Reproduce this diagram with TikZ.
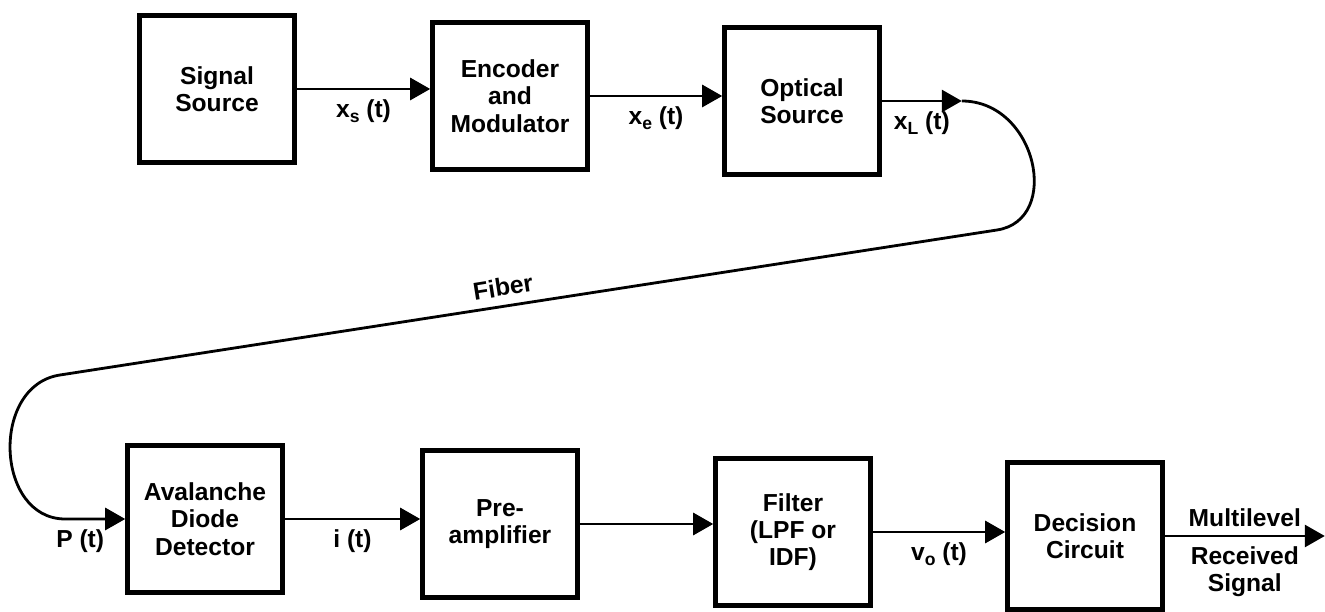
\documentclass[tikz,border=0pt]{standalone}
\usepackage{fontspec}
\setmainfont{Liberation Sans}
\usetikzlibrary{
  arrows.meta,
  positioning
}

%% subscript hanging low, as on the scanned labels
\newcommand{\lowsub}[1]{\raisebox{-0.45ex}{\fontsize{10}{10}\selectfont #1}}

\begin{document}
\begin{tikzpicture}[
  font=\fontsize{14}{15.5}\selectfont\bfseries,
  %% ── node styles ────────────────────────────────────────────────────
  %% Square blocks of the link
  B/.style  ={rectangle, draw, line width=2.6pt,
               minimum width=3.1cm, minimum height=2.95cm,
               align=center, inner sep=2pt},
  %% Signal names under the arrows
  lbl/.style={below=4pt, inner sep=1pt, align=center},
  %% Arrows
  arr/.style={-{Triangle[length=0.40cm,width=0.44cm]}, line width=1.6pt},
]

\useasboundingbox (0,0) rectangle (26.5,12.24);

%% ════════════════════════════════════════════════════════════════════
%% TRANSMITTER  (top row)
%% ════════════════════════════════════════════════════════════════════

\node[B] (sig) at ( 4.34,10.46) {Signal\\Source};
\node[B] (enc) at (10.20,10.32) {Encoder\\and\\Modulator};
\node[B] (opt) at (16.04,10.22) {Optical\\Source};

\draw[arr] (sig.east) -- node[lbl]{x\lowsub{s} (t)} (sig.east -| enc.west);
\draw[arr] (enc.east) -- node[lbl]{x\lowsub{e} (t)} (enc.east -| opt.west);

%% ════════════════════════════════════════════════════════════════════
%% RECEIVER  (bottom row)
%% ════════════════════════════════════════════════════════════════════

\node[B] (apd)  at ( 4.10, 1.86) {Avalanche\\Diode\\Detector};
\node[B] (pre)  at (10.00, 1.76) {Pre-\\amplifier};
\node[B] (filt) at (15.86, 1.60) {Filter\\(LPF or\\IDF)};
\node[B] (dec)  at (21.70, 1.52) {Decision\\Circuit};

\draw[arr] (apd.east)  -- node[lbl]{i (t)} (apd.east -| pre.west);
\draw[arr] (pre.east)  -- (pre.east -| filt.west);
\draw[arr] (filt.east) -- node[lbl]{v\lowsub{o} (t)} (filt.east -| dec.west);

%% Output end of the receiver
\coordinate[right=3.2cm of dec.east] (recv);
\draw[arr] (dec.east) -- node[above=1pt]{Multilevel}
                         node[lbl]{Received\\Signal} (recv);

%% ── Fiber: loop right, long run back left, loop into the detector ──
\coordinate[right=1.6cm of opt.east] (fibA);
\coordinate (fibB) at (19.94,7.64);
\coordinate (fibC) at ( 1.20,4.74);
\coordinate[left=1.2cm of apd.west] (fibD);

\draw[arr] (opt.east) -- node[lbl]{x\lowsub{L} (t)} (fibA);
\draw[arr]
  (fibA) .. controls +(1.5,0) and +(1.3,0.2) .. (fibB)
  -- (fibC)
  .. controls +(-1.4,-0.21) and +(-1.4,0) .. (fibD)
  -- node[lbl, pos=0.25]{P (t)} (apd.west);

\node[rotate=9] (fibtxt) at (10.06,6.50) {Fiber};

\end{tikzpicture}
\end{document}
